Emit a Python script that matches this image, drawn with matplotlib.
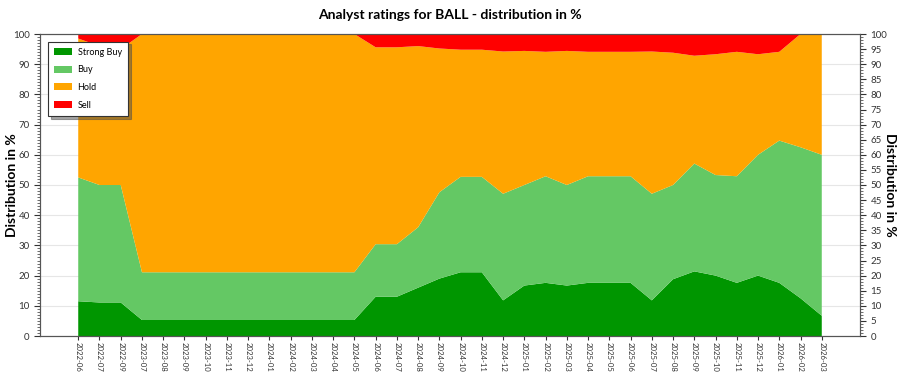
import matplotlib
matplotlib.use("Agg")
import matplotlib.pyplot as plt
from matplotlib.ticker import MultipleLocator
import numpy as np

months = ["2022-06", "2022-07", "2022-09", "2023-07", "2023-08", "2023-09", "2023-10",
          "2023-11", "2023-12", "2024-01", "2024-02", "2024-03", "2024-04", "2024-05",
          "2024-06", "2024-07", "2024-08", "2024-09", "2024-10", "2024-11", "2024-12",
          "2025-01", "2025-02", "2025-03", "2025-04", "2025-05", "2025-06", "2025-07",
          "2025-08", "2025-09", "2025-10", "2025-11", "2025-12", "2026-01", "2026-02",
          "2026-03"]

strong_buy = [11.5, 11.1, 11.1, 5.3, 5.3, 5.3, 5.3, 5.3, 5.3, 5.3, 5.3, 5.3, 5.3, 5.3,
              13.0, 13.0, 16.0, 19.0, 21.1, 21.1, 11.8, 16.7, 17.6, 16.7, 17.6, 17.6,
              17.6, 11.8, 18.8, 21.4, 20.0, 17.6, 20.0, 17.6, 12.5, 6.7]
buy = [41.0, 38.9, 38.9, 15.8, 15.8, 15.8, 15.8, 15.8, 15.8, 15.8, 15.8, 15.8, 15.8, 15.8,
       17.4, 17.4, 20.0, 28.6, 31.6, 31.6, 35.3, 33.3, 35.3, 33.3, 35.3, 35.3,
       35.3, 35.3, 31.2, 35.7, 33.3, 35.3, 40.0, 47.1, 50.0, 53.3]
hold = [46.0, 46.0, 45.0, 78.9, 78.9, 78.9, 78.9, 78.9, 78.9, 78.9, 78.9, 78.9, 78.9, 78.9,
        65.2, 65.2, 60.0, 47.6, 42.1, 42.1, 47.1, 44.4, 41.2, 44.4, 41.2, 41.2,
        41.2, 47.1, 43.8, 35.7, 40.0, 41.2, 33.3, 29.4, 37.5, 40.0]
sell = [1.5, 4.0, 5.0, 0, 0, 0, 0, 0, 0, 0, 0, 0, 0, 0,
        4.3, 4.3, 4.0, 4.8, 5.3, 5.3, 5.9, 5.6, 5.9, 5.6, 5.9, 5.9,
        5.9, 5.9, 6.2, 7.1, 6.7, 5.9, 6.7, 5.9, 0, 0]

labels = ["Strong Buy", "Buy", "Hold", "Sell"]
colors = ["#009600", "#64c864", "#ffa500", "#ff0000"]

plt.rcParams['font.family'] = ['Lato', 'DejaVu Sans']

fig = plt.figure(figsize=(9, 3.75), dpi=100)
ax = fig.add_axes([40/900, 1-336/375, 820/900, 302/375])

x = np.arange(len(months))
ax.stackplot(x, strong_buy, buy, hold, sell, labels=labels, colors=colors, linewidth=0, zorder=2)

ax.set_xlim(-1.8, len(months) - 1 + 1.8)
ax.set_ylim(0, 100)
ax.set_xticks(x)
ax.set_xticklabels(months, rotation=270, fontsize=5.6, color="#333333")
ax.yaxis.set_major_locator(MultipleLocator(10))
ax.yaxis.set_minor_locator(MultipleLocator(1))
ax.tick_params(axis='y', which='major', labelsize=7, color="#333333", labelcolor="#333333", length=4)
ax.tick_params(axis='y', which='minor', length=2, color="#555555")
ax.tick_params(axis='x', length=3, color="#333333", pad=1)
ax.grid(axis='y', color="#e6e6e6", linewidth=0.8, zorder=0)
ax.set_axisbelow(True)
for s in ax.spines.values():
    s.set_color("#555555")
    s.set_linewidth(0.8)

ax2 = ax.twinx()
ax2.set_ylim(0, 100)
ax2.yaxis.set_major_locator(MultipleLocator(5))
ax2.yaxis.set_minor_locator(MultipleLocator(1))
ax2.tick_params(axis='y', which='major', labelsize=7, color="#333333", labelcolor="#333333", length=4)
ax2.tick_params(axis='y', which='minor', length=2, color="#555555")
for s in ax2.spines.values():
    s.set_color("#555555")
    s.set_linewidth(0.8)

yc = 1 - 185/375
fig.text(12/900, yc, "Distribution in %", fontsize=10, fontweight='bold', rotation=90,
         ha='center', va='center')
fig.text(890/900, yc, "Distribution in %", fontsize=10, fontweight='bold', rotation=270,
         ha='center', va='center')
fig.text(0.5, 1 - 15/375, "Analyst ratings for BALL - distribution in %", fontsize=10,
         fontweight='bold', ha='center', va='center')

leg = ax.legend(loc='upper left', fontsize=6.5, frameon=True, fancybox=False, shadow=True,
                edgecolor="#333333", borderpad=0.7, labelspacing=0.95, handlelength=2.0,
                handleheight=0.8, handletextpad=0.6, bbox_to_anchor=(0.004, 0.99))
leg.get_frame().set_linewidth(0.8)

fig.savefig("out.png", dpi=100)
